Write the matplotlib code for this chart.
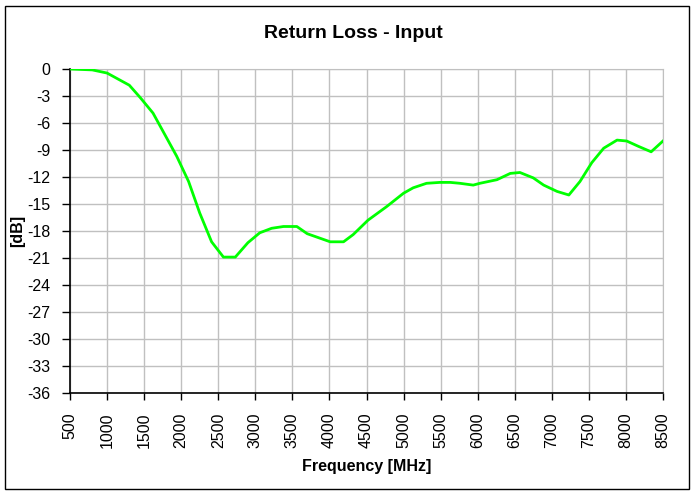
import matplotlib.pyplot as plt
from matplotlib.patches import Rectangle

plt.rcParams['font.family'] = ['Liberation Sans', 'DejaVu Sans']

# frequency points [MHz] and return loss [dB]
freq = [500, 800, 1000, 1300, 1450, 1620, 1780, 1940, 2100, 2250, 2410, 2570, 2730,
        2900, 3060, 3220, 3380, 3560, 3700, 4010, 4190, 4320, 4520, 4770, 5000,
        5130, 5310, 5490, 5630, 5760, 5940, 6030, 6260, 6440, 6570, 6750, 6890,
        7070, 7230, 7380, 7540, 7700, 7880, 8010, 8170, 8340, 8500]
rl = [0.0, -0.1, -0.45, -1.8, -3.2, -4.9, -7.3, -9.7, -12.5, -16.0, -19.2, -20.9, -20.9,
      -19.3, -18.2, -17.7, -17.5, -17.5, -18.3, -19.2, -19.2, -18.4, -16.8, -15.3, -13.8,
      -13.2, -12.7, -12.6, -12.6, -12.7, -12.9, -12.7, -12.3, -11.6, -11.5, -12.1, -12.9,
      -13.6, -14.0, -12.5, -10.4, -8.8, -7.9, -8.0, -8.6, -9.2, -8.0]

xticks = list(range(500, 8501, 500))
yticks = list(range(0, -37, -3))

W, H = 695, 491
fig = plt.figure(figsize=(W / 100, H / 100), dpi=100)
ax = fig.add_axes([70 / W, 1 - 393 / H, 593 / W, 324 / H])

ax.plot(freq, rl, color='#00ff00', lw=2.0, zorder=3)

ax.set_xlim(500, 8500)
ax.set_ylim(-36, 0)
ax.set_xticks(xticks)
ax.set_yticks(yticks)
ax.set_xticklabels([str(t) for t in xticks], rotation=90, fontsize=11.5)
ax.set_yticklabels([str(t) for t in yticks], fontsize=11.5)
ax.grid(True, color='#c0c0c0', lw=1.0)
ax.set_axisbelow(True)
ax.tick_params(axis='x', direction='out', length=5, width=1, color='black', pad=9)
ax.tick_params(axis='y', direction='out', length=6, width=1, color='black', pad=8)

for s in ['top', 'right']:
    ax.spines[s].set_color('#c0c0c0')
for s in ['left', 'bottom']:
    ax.spines[s].set_color('black')
    ax.spines[s].set_linewidth(1.2)

fig.text(353 / W, 1 - 33 / H, 'Return Loss - Input', fontsize=14,
         fontweight='bold', ha='center', va='center')
fig.text(367 / W, 1 - 466 / H, 'Frequency [MHz]', fontsize=11.5,
         fontweight='bold', ha='center', va='center')
fig.text(18 / W, 1 - 231 / H, '[dB]', fontsize=11.5, fontweight='bold',
         ha='center', va='center', rotation=90)

# outer chart frame
fig.patches.append(Rectangle((5 / W, 1 - 489 / H), 684 / W, 483 / H,
                             transform=fig.transFigure, fill=False,
                             edgecolor='black', lw=1.0))

fig.savefig('out.png', dpi=100)
